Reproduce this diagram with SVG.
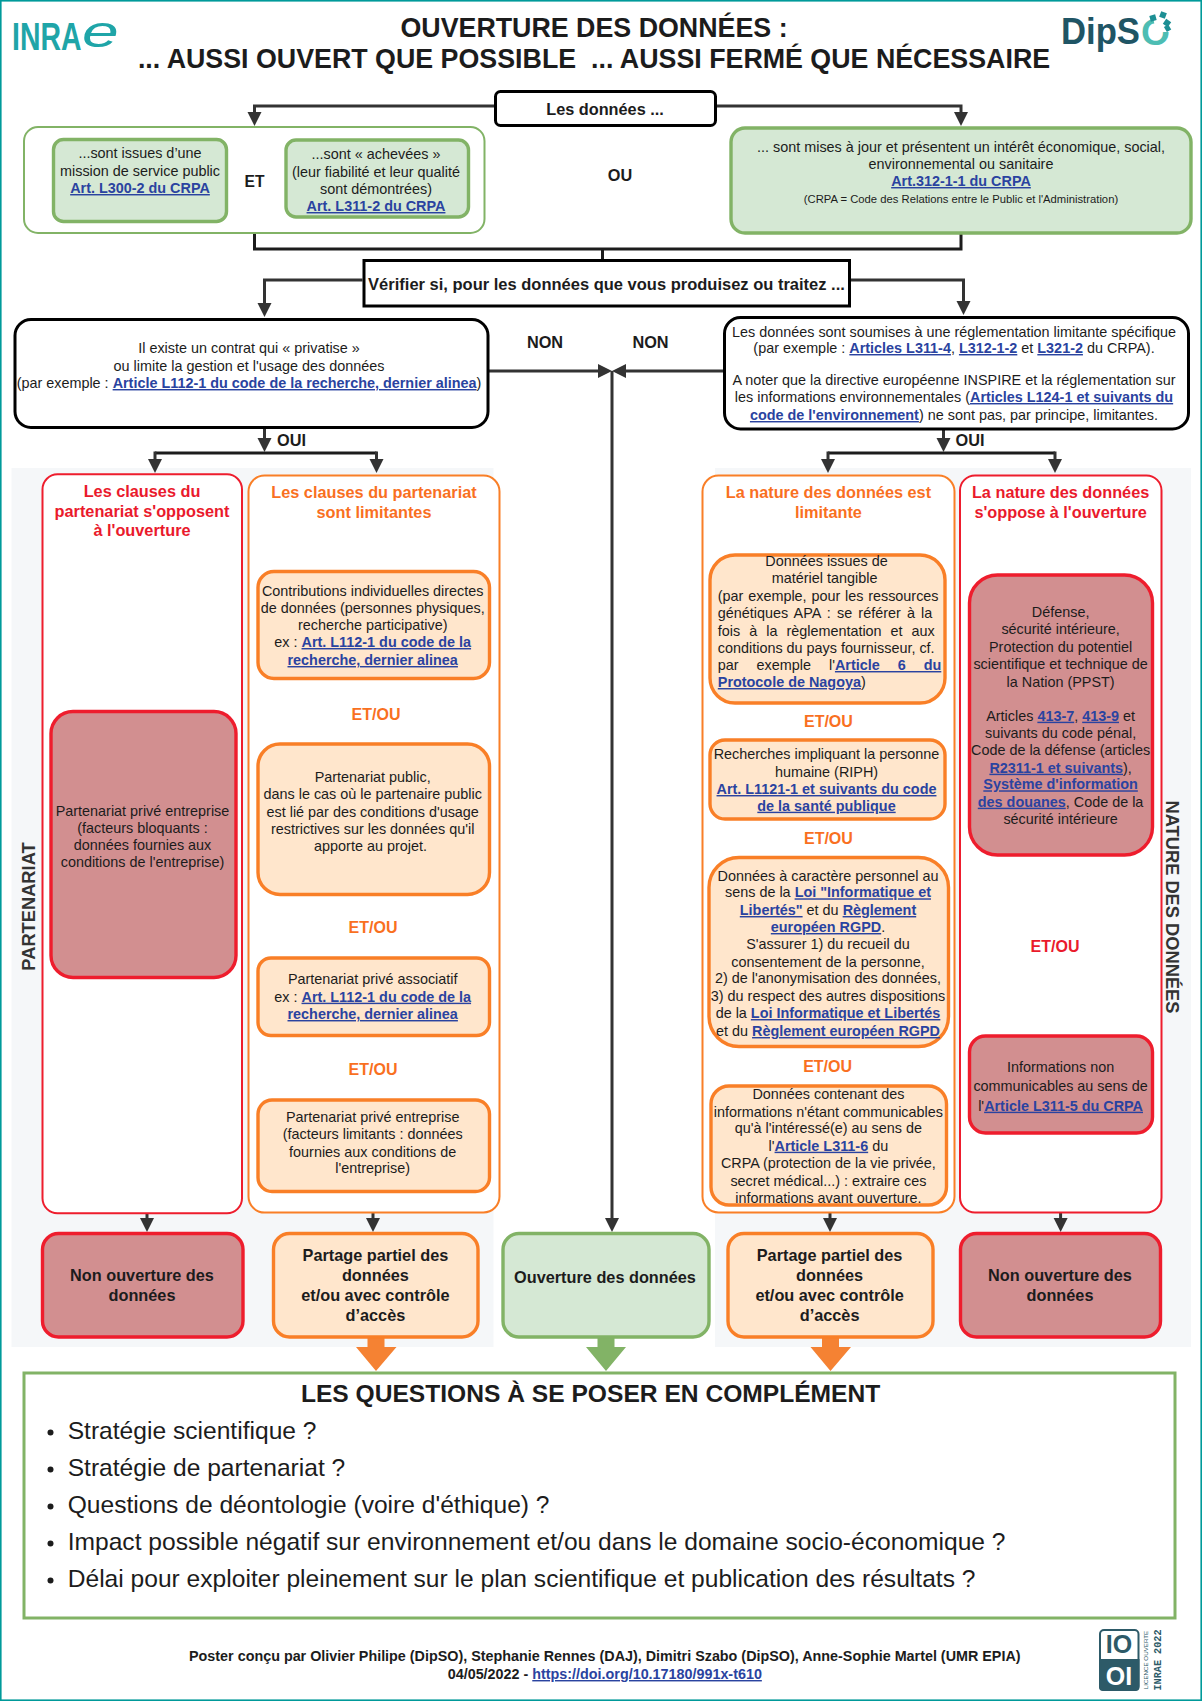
<svg xmlns="http://www.w3.org/2000/svg" width="1202" height="1701" viewBox="0 0 1202 1701">
<style>
text{font-family:"Liberation Sans",Arial,sans-serif;fill:#1c1c1c;text-anchor:middle;white-space:pre}
.t{font-size:14.4px}
.s{font-size:11.25px}
.b{font-size:16.3px;font-weight:bold}
.h{font-size:26.8px;font-weight:bold}
.side{font-size:18.3px;font-weight:bold;fill:#333}
.red{fill:#ea1a2c}
.org{fill:#f9701f}
.q{font-size:24.6px;text-anchor:start}
.f{font-size:14.35px;font-weight:bold}
.a{fill:#2a43a0;font-weight:bold;text-decoration:underline}
.st{text-anchor:start}
.k{fill:#fff;stroke:#000;stroke-width:3}
.g1{fill:#fff;stroke:#82b366;stroke-width:2}
.g2{fill:#d5e8d4;stroke:#82b366;stroke-width:3.4}
.r1{fill:#fff;stroke:#ee1d2d;stroke-width:2}
.r2{fill:#d28f90;stroke:#ee1d2d;stroke-width:3.4}
.o1{fill:#fff;stroke:#f97f27;stroke-width:2}
.o2{fill:#ffe6cc;stroke:#f97f27;stroke-width:3.4}
.panel{fill:#f5f7f9}
.c{fill:none;stroke:#1c1c1c;stroke-width:3}
.ca{fill:none;stroke:#333;stroke-width:3;marker-end:url(#arr)}
.logo{fill:#1fa5a8}
.dip{fill:#1f5565}
</style>
<defs>
<marker id="arr" markerUnits="userSpaceOnUse" markerWidth="16" markerHeight="16" viewBox="0 0 16 16" refX="7" refY="8" orient="auto"><path d="M1 1 L15 8 L1 15 Z" fill="#333"/></marker>
</defs>
<rect width="1202" height="1701" fill="#fff"/>
<rect x="0.8" y="0.8" width="1200.4" height="1699.4" fill="none" stroke="#009a9a" stroke-width="1.6"/>
<rect class="panel" x="11.5" y="468" width="482" height="879"/>
<rect class="panel" x="715" y="468" width="476" height="879"/>

<g id="logo-inrae">
<text class="logo" transform="translate(12 50) scale(.72 1)" style="text-anchor:start;font-size:39.5px;font-weight:bold">INRA</text>
<text class="logo" transform="translate(82 47) scale(1.5 1)" style="text-anchor:start;font-style:italic;font-size:44px">e</text>
</g>
<g id="logo-dipso">
<text class="dip" x="1061" y="44.3" style="text-anchor:start;font-size:36px;font-weight:bold" textLength="79" lengthAdjust="spacingAndGlyphs">DipS</text>
<text x="1141" y="44.8" style="text-anchor:start;font-size:36px;font-weight:bold;fill:#4dbdb3" textLength="29" lengthAdjust="spacingAndGlyphs">O</text>
<path d="M1156 32 L1152 12 L1180 12 L1176 32 Z" fill="#fff"/>
<g fill="#1d8f94"><rect x="1150" y="15" width="6" height="6" transform="rotate(-15 1153 18)"/><rect x="1160" y="12" width="6" height="6" transform="rotate(20 1163 15)"/><rect x="1164" y="20" width="6" height="6" transform="rotate(35 1167 23)"/><rect x="1165" y="26" width="6" height="5" transform="rotate(60 1168 28)"/></g>
</g>
<g id="title">
<text class="h" x="594" y="36.7">OUVERTURE DES DONNÉES :</text>
<text class="h" x="594" y="68">... AUSSI OUVERT QUE POSSIBLE  ... AUSSI FERMÉ QUE NÉCESSAIRE</text>
</g>

<g id="connectors">
<path class="ca" d="M494 106 H254.5 V118"/>
<path class="ca" d="M717 106 H961 V118"/>
<path class="c" d="M254.5 234 V249 H961 V234"/>
<path class="c" d="M602.5 249 V260"/>
<path class="ca" d="M362.5 280 H264.5 V309"/>
<path class="ca" d="M851 280 H963.5 V307"/>
<path class="ca" d="M487.5 371 H604"/>
<path class="ca" d="M723 371 H620"/>
<path class="ca" d="M612 371 V1224"/>
<path class="ca" d="M264.5 428 V444"/>
<path class="c" d="M155 453 H376.5"/>
<path class="ca" d="M155 451.5 V465"/>
<path class="ca" d="M376.5 451.5 V465"/>
<path class="ca" d="M943.5 430 V444"/>
<path class="c" d="M828 453 H1055"/>
<path class="ca" d="M828 451.5 V465"/>
<path class="ca" d="M1055 451.5 V465"/>
<path class="ca" d="M147 1213 V1224"/>
<path class="ca" d="M373 1213 V1224"/>
<path class="ca" d="M830 1213 V1224"/>
<path class="ca" d="M1060.6 1213 V1224"/>
<path d="M367.5 1337 H384.5 V1347 H396.5 L376 1371 L356 1347 H367.5 Z" fill="#f58233"/>
<path d="M597.5 1337 H614.5 V1347 H626 L606 1371 L586 1347 H597.5 Z" fill="#82b366"/>
<path d="M822 1337 H839 V1347 H851 L830.5 1371 L810.5 1347 H822 Z" fill="#f58233"/>
</g>

<g id="n-donnees"><rect class="k" x="495.5" y="91.5" width="220" height="34" rx="5"/><text class="b" x="605" y="115">Les données ...</text></g>
<g id="n-left-conditions"><rect class="g1" x="24" y="127" width="460.5" height="106" rx="14"/></g>
<g id="n-service-public"><rect class="g2" x="53.5" y="139.5" width="173" height="82" rx="10"/>
<text class="t" x="140" y="158">...sont issues d’une</text><text class="t" x="140" y="176">mission de service public</text><text class="t" x="140" y="193"><tspan class="a">Art. L300-2 du CRPA</tspan></text></g>
<g id="n-achevees"><rect class="g2" x="286" y="140" width="182.5" height="77" rx="10"/>
<text class="t" x="376" y="159">...sont « achevées »</text><text class="t" x="376" y="177">(leur fiabilité et leur qualité</text><text class="t" x="376" y="194">sont démontrées)</text><text class="t" x="376" y="211"><tspan class="a">Art. L311-2 du CRPA</tspan></text></g>
<text class="b" x="254.5" y="187" style="font-size:15.6px">ET</text>
<text class="b" x="620" y="181">OU</text>
<g id="n-mises-a-jour"><rect class="g2" x="731" y="128" width="460" height="105" rx="14"/>
<text class="t" x="961" y="152">... sont mises à jour et présentent un intérêt économique, social,</text><text class="t" x="961" y="169">environnemental ou sanitaire</text><text class="t" x="961" y="186"><tspan class="a">Art.312-1-1 du CRPA</tspan></text><text class="s" x="961" y="203">(CRPA = Code des Relations entre le Public et l'Administration)</text></g>
<g id="n-verifier"><rect class="k" x="364" y="260.5" width="485.5" height="45.5"/><text class="b" x="606.5" y="290" style="font-size:16.5px">Vérifier si, pour les données que vous produisez ou traitez ...</text></g>
<g id="n-contrat"><rect class="k" x="15" y="319.5" width="473" height="108" rx="16"/>
<text class="t" x="249" y="353">Il existe un contrat qui « privatise »</text><text class="t" x="249" y="371">ou limite la gestion et l'usage des données</text><text class="t" x="249" y="388">(par exemple : <tspan class="a">Article L112-1 du code de la recherche, dernier alinea</tspan>)</text></g>
<g id="n-reglementation"><rect class="k" x="724.5" y="317.5" width="464" height="111.5" rx="16"/>
<text class="t" x="954" y="336.7">Les données sont soumises à une réglementation limitante spécifique</text>
<text class="t" x="954" y="353">(par exemple : <tspan class="a">Articles L311-4</tspan>, <tspan class="a">L312-1-2</tspan> et <tspan class="a">L321-2</tspan> du CRPA).</text>
<text class="t" x="954" y="385">A noter que la directive européenne INSPIRE et la réglementation sur</text>
<text class="t" x="954" y="402">les informations environnementales (<tspan class="a">Articles L124-1 et suivants du</tspan></text>
<text class="t" x="954" y="420"><tspan class="a">code de l'environnement</tspan>) ne sont pas, par principe, limitantes.</text></g>
<text class="b" x="545" y="348">NON</text>
<text class="b" x="650.5" y="348">NON</text>
<text class="b" x="291.5" y="446">OUI</text>
<text class="b" x="970" y="446">OUI</text>

<text class="side" transform="translate(35 906.5) rotate(-90)">PARTENARIAT</text>
<text class="side" transform="translate(1166 907) rotate(90)">NATURE DES DONNÉES</text>

<g id="n-col-partenariat-red"><rect class="r1" x="42.5" y="474.3" width="199.5" height="739" rx="15"/>
<text class="b red" x="142" y="496.7">Les clauses du</text><text class="b red" x="142" y="516.7">partenariat s'opposent</text><text class="b red" x="142" y="536">à l'ouverture</text></g>
<g id="n-prive-bloquant"><rect class="r2" x="51" y="711.5" width="185" height="266" rx="22"/>
<text class="t" x="142.5" y="816">Partenariat privé entreprise</text><text class="t" x="142.5" y="833">(facteurs bloquants :</text><text class="t" x="142.5" y="850">données fournies aux</text><text class="t" x="142.5" y="867">conditions de l'entreprise)</text></g>
<g id="n-col-partenariat-org"><rect class="o1" x="248.5" y="475.5" width="251" height="737" rx="16"/>
<text class="b org" x="374" y="498">Les clauses du partenariat</text><text class="b org" x="374" y="517.7">sont limitantes</text></g>
<g id="n-contributions"><rect class="o2" x="258" y="571.5" width="231.5" height="107" rx="16"/>
<text class="t" x="372.7" y="596">Contributions individuelles directes</text><text class="t" x="372.7" y="612.7">de données (personnes physiques,</text><text class="t" x="372.7" y="630">recherche participative)</text><text class="t" x="372.7" y="647">ex : <tspan class="a">Art. L112-1 du code de la</tspan></text><text class="t" x="372.7" y="665"><tspan class="a">recherche, dernier alinea</tspan></text></g>
<text class="b org" x="376" y="720" style="font-size:16px">ET/OU</text>
<g id="n-public"><rect class="o2" x="258" y="744" width="231.5" height="150.5" rx="22"/>
<text class="t" x="372.7" y="781.7">Partenariat public,</text><text class="t" x="372.7" y="799">dans le cas où le partenaire public</text><text class="t" x="372.7" y="816.7">est lié par des conditions d'usage</text><text class="t" x="372.7" y="834">restrictives sur les données qu'il</text><text class="t" x="370.5" y="850.7">apporte au projet.</text></g>
<text class="b org" x="373" y="932.7" style="font-size:16px">ET/OU</text>
<g id="n-associatif"><rect class="o2" x="258" y="958" width="231.5" height="77.5" rx="13"/>
<text class="t" x="372.7" y="984">Partenariat privé associatif</text><text class="t" x="372.7" y="1001.7">ex : <tspan class="a">Art. L112-1 du code de la</tspan></text><text class="t" x="372.7" y="1019"><tspan class="a">recherche, dernier alinea</tspan></text></g>
<text class="b org" x="373" y="1075" style="font-size:16px">ET/OU</text>
<g id="n-prive-limitant"><rect class="o2" x="258" y="1100" width="231.5" height="91.5" rx="14"/>
<text class="t" x="372.7" y="1121.7">Partenariat privé entreprise</text><text class="t" x="372.7" y="1139">(facteurs limitants : données</text><text class="t" x="372.7" y="1156.7">fournies aux conditions de</text><text class="t" x="372.7" y="1172.7">l'entreprise)</text></g>

<g id="n-col-nature-org"><rect class="o1" x="702.5" y="475.5" width="252" height="737" rx="16"/>
<text class="b org" x="828.4" y="498">La nature des données est</text><text class="b org" x="828.4" y="517.7">limitante</text></g>
<g id="n-materiel"><rect class="o2" x="710" y="555" width="235" height="148" rx="25"/>
<text class="t" x="826.5" y="566">Données issues de</text><text class="t" x="824.6" y="583">matériel tangible</text>
<text class="t st" x="717.8" y="601" word-spacing="0.8">(par exemple, pour les ressources</text>
<text class="t st" x="717.8" y="618" word-spacing="2.2">génétiques APA : se référer à la</text>
<text class="t st" x="717.8" y="635.7" word-spacing="5">fois à la règlementation et aux</text>
<text class="t st" x="717.8" y="652.7" word-spacing="0">conditions du pays fournisseur, cf.</text>
<text class="t st" x="717.8" y="670" word-spacing="14">par exemple l'<tspan class="a">Article 6 du</tspan></text>
<text class="t st" x="717.8" y="687"><tspan class="a">Protocole de Nagoya</tspan>)</text></g>
<text class="b org" x="828.4" y="726.7" style="font-size:16px">ET/OU</text>
<g id="n-riph"><rect class="o2" x="710" y="740" width="235" height="79" rx="15"/>
<text class="t" x="826.5" y="759">Recherches impliquant la personne</text><text class="t" x="826.5" y="776.7">humaine (RIPH)</text><text class="t" x="826.5" y="794"><tspan class="a">Art. L1121-1 et suivants du code</tspan></text><text class="t" x="826.5" y="810.7"><tspan class="a">de la santé publique</tspan></text></g>
<text class="b org" x="828.4" y="844" style="font-size:16px">ET/OU</text>
<g id="n-personnel"><rect class="o2" x="709" y="857.5" width="239.5" height="189" rx="30"/>
<text class="t" x="828" y="880.7">Données à caractère personnel au</text>
<text class="t" x="828" y="897.3">sens de la <tspan class="a">Loi "Informatique et</tspan></text>
<text class="t" x="828" y="915"><tspan class="a">Libertés"</tspan> et du <tspan class="a">Règlement</tspan></text>
<text class="t" x="828" y="932"><tspan class="a">européen RGPD</tspan>.</text>
<text class="t" x="828" y="949">S'assurer 1) du recueil du</text>
<text class="t" x="828" y="966.7">consentement de la personne,</text>
<text class="t" x="828" y="983">2) de l'anonymisation des données,</text>
<text class="t" x="828" y="1000.7">3) du respect des autres dispositions</text>
<text class="t" x="828" y="1018">de la <tspan class="a">Loi Informatique et Libertés</tspan></text>
<text class="t" x="828" y="1036">et du <tspan class="a">Règlement européen RGPD</tspan></text></g>
<text class="b org" x="827.6" y="1072" style="font-size:16px">ET/OU</text>
<g id="n-interesse"><rect class="o2" x="711" y="1086" width="235.5" height="119" rx="18"/>
<text class="t" x="828.4" y="1099">Données contenant des</text><text class="t" x="828.4" y="1116.7">informations n'étant communicables</text><text class="t" x="828.4" y="1133">qu'à l'intéressé(e) au sens de</text><text class="t" x="828.4" y="1150.7">l'<tspan class="a">Article L311-6</tspan> du</text><text class="t" x="828.4" y="1168">CRPA (protection de la vie privée,</text><text class="t" x="828.4" y="1185.7">secret médical...) : extraire ces</text><text class="t" x="828.4" y="1203">informations avant ouverture.</text></g>

<g id="n-col-nature-red"><rect class="r1" x="960" y="475.5" width="201.5" height="737" rx="15"/>
<text class="b red" x="1060.6" y="498">La nature des données</text><text class="b red" x="1060.6" y="518">s'oppose à l'ouverture</text></g>
<g id="n-defense"><rect class="r2" x="969.5" y="575" width="183" height="280" rx="28"/>
<text class="t" x="1060.6" y="616.7">Défense,</text><text class="t" x="1060.6" y="634">sécurité intérieure,</text><text class="t" x="1060.6" y="651.7">Protection du potentiel</text><text class="t" x="1060.6" y="669">scientifique et technique de</text><text class="t" x="1060.6" y="686.7">la Nation (PPST)</text>
<text class="t" x="1060.6" y="720.7">Articles <tspan class="a">413-7</tspan>, <tspan class="a">413-9</tspan> et</text><text class="t" x="1060.6" y="737.7">suivants du code pénal,</text><text class="t" x="1060.6" y="755">Code de la défense (articles</text><text class="t" x="1060.6" y="772.7"><tspan class="a">R2311-1 et suivants</tspan>),</text><text class="t" x="1060.6" y="789.3"><tspan class="a">Système d'information</tspan></text><text class="t" x="1060.6" y="806.7"><tspan class="a">des douanes</tspan>, Code de la</text><text class="t" x="1060.6" y="824">sécurité intérieure</text></g>
<text class="b red" x="1055" y="951.7" style="font-size:16px">ET/OU</text>
<g id="n-non-communicables"><rect class="r2" x="969.5" y="1036" width="183" height="97" rx="16"/>
<text class="t" x="1060.6" y="1071.7">Informations non</text><text class="t" x="1060.6" y="1091">communicables au sens de</text><text class="t" x="1060.6" y="1110.7">l'<tspan class="a">Article L311-5 du CRPA</tspan></text></g>

<g id="n-res-non-1"><rect class="r2" x="42.5" y="1233.5" width="200.5" height="103.5" rx="16"/><text class="b" x="142" y="1280.7">Non ouverture des</text><text class="b" x="142" y="1301">données</text></g>
<g id="n-res-partiel-1"><rect class="o2" x="273.5" y="1233.5" width="204.5" height="103.5" rx="16"/><text class="b" x="375.4" y="1261">Partage partiel des</text><text class="b" x="375.4" y="1280.7">données</text><text class="b" x="375.4" y="1301">et/ou avec contrôle</text><text class="b" x="375.4" y="1320.7">d’accès</text></g>
<g id="n-res-ouverture"><rect class="g2" x="503" y="1233.5" width="206" height="103.5" rx="16"/><text class="b" x="605" y="1282.7">Ouverture des données</text></g>
<g id="n-res-partiel-2"><rect class="o2" x="728" y="1233.5" width="205" height="103.5" rx="16"/><text class="b" x="829.6" y="1261">Partage partiel des</text><text class="b" x="829.6" y="1280.7">données</text><text class="b" x="829.6" y="1301">et/ou avec contrôle</text><text class="b" x="829.6" y="1320.7">d’accès</text></g>
<g id="n-res-non-2"><rect class="r2" x="960.5" y="1233.5" width="200" height="103.5" rx="16"/><text class="b" x="1060" y="1280.7">Non ouverture des</text><text class="b" x="1060" y="1301">données</text></g>

<g id="n-questions"><rect x="24" y="1373" width="1151" height="245" fill="#fff" stroke="#82b366" stroke-width="3"/>
<text x="590.6" y="1401.7" style="font-size:24.6px;font-weight:bold">LES QUESTIONS À SE POSER EN COMPLÉMENT</text>
<g fill="#1c1c1c"><circle cx="50.5" cy="1432.5" r="3"/><circle cx="50.5" cy="1469.5" r="3"/><circle cx="50.5" cy="1506.5" r="3"/><circle cx="50.5" cy="1543.5" r="3"/><circle cx="50.5" cy="1580.5" r="3"/></g>
<text class="q" x="67.7" y="1438.7">Stratégie scientifique ?</text>
<text class="q" x="67.7" y="1475.7">Stratégie de partenariat ?</text>
<text class="q" x="67.7" y="1512.5">Questions de déontologie (voire d'éthique) ?</text>
<text class="q" x="67.7" y="1549.5">Impact possible négatif sur environnement et/ou dans le domaine socio-économique ?</text>
<text class="q" x="67.7" y="1586.7">Délai pour exploiter pleinement sur le plan scientifique et publication des résultats ?</text></g>

<g id="footer">
<text class="f" x="604.8" y="1660.7">Poster conçu par Olivier Philipe (DipSO), Stephanie Rennes (DAJ), Dimitri Szabo (DipSO), Anne-Sophie Martel (UMR EPIA)</text>
<text class="f" x="604.8" y="1679">04/05/2022 - <tspan class="a">https://doi.org/10.17180/991x-t610</tspan></text>
</g>
<g id="licence">
<rect x="1100" y="1630" width="38.5" height="60" rx="4" fill="#fff" stroke="#2d5a68" stroke-width="2"/>
<path d="M1099 1659 H1139.5 V1687 a4 4 0 0 1 -4 4 H1103 a4 4 0 0 1 -4 -4 Z" fill="#2d5a68"/>
<text x="1119" y="1652.7" style="font-size:25px;fill:#2d5a68;font-weight:bold">IO</text>
<text x="1119" y="1685" style="font-size:25px;fill:#fff;font-weight:bold">OI</text>
<text transform="translate(1148.3 1660) rotate(-90)" style="font-size:6.2px;fill:#2d5a68">LICENCE OUVERTE</text>
<text transform="translate(1161 1660) rotate(-90)" style="font-family:'Liberation Mono',monospace;font-size:10.2px;font-weight:bold;fill:#2d5a68">INRAE 2022</text>
</g>
</svg>
